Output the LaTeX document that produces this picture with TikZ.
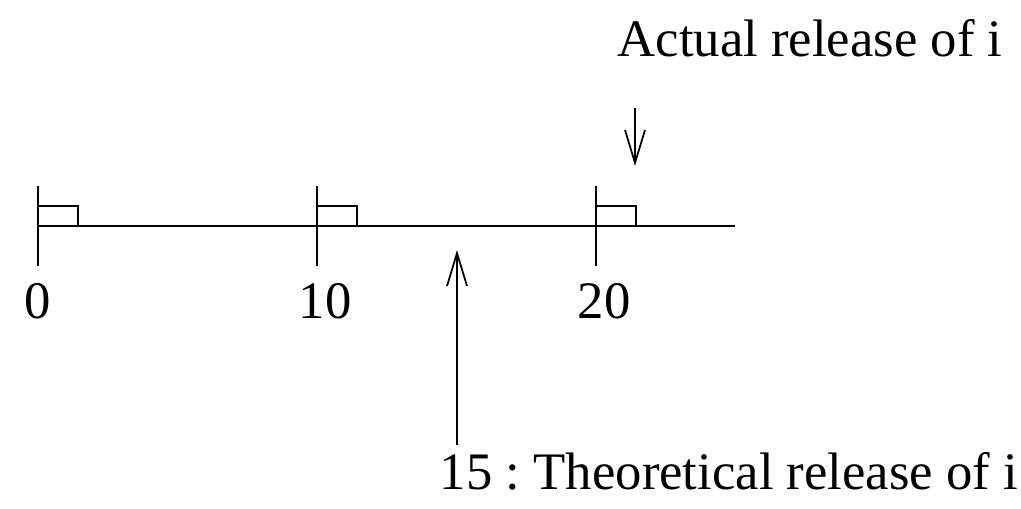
\documentclass[tikz,border=0pt]{standalone}
\usepackage{fontspec}
\setmainfont{Liberation Serif}
\usetikzlibrary{arrows.meta,positioning,calc}
\tikzset{
  tl/.style={line width=1pt, draw=black},
  rel/.style={tl, -{Straight Barb[length=6.6mm,width=4mm,line width=1pt]}},
  lbl/.style={font=\fontsize{30}{36}\selectfont, inner sep=0pt},
}

\begin{document}
\frenchspacing
\begin{tikzpicture}[x=0.02cm,y=-0.02cm]
  \useasboundingbox (0,0) rectangle (1021,509);

  % time axis
  \coordinate (t0) at (38,226);
  \coordinate (t10) at (317,226);
  \coordinate (t20) at (596,226);
  \coordinate (tend) at (735,226);
  \draw[tl] (t0) -- (tend);

  % ticks and release flags
  \foreach \t in {t0,t10,t20} {
    \draw[tl] ($(\t)+(0,-40)$) -- ($(\t)+(0,40)$);
    \draw[tl] ($(\t)+(0,-20)$) -- ($(\t)+(40,-20)$) -- ($(\t)+(40,0)$);
  }

  \node[lbl] (l0) at (38,301) {0};
  \node[lbl] (l10) at (325,301) {10};
  \node[lbl] (l20) at (604,301) {20};

  % releases
  \node[lbl] (act) at (810,38) {Actual release of i};
  \coordinate (actTop) at (635,108);
  \coordinate (actTip) at (635,166);
  \draw[rel] (actTop) -- (actTip);

  \node[lbl] (theo) at (729,471) {15 : Theoretical release of i};
  \coordinate (theoBot) at (457,445);
  \coordinate (theoTip) at (457,250);
  \draw[rel] (theoBot) -- (theoTip);
\end{tikzpicture}
\end{document}
